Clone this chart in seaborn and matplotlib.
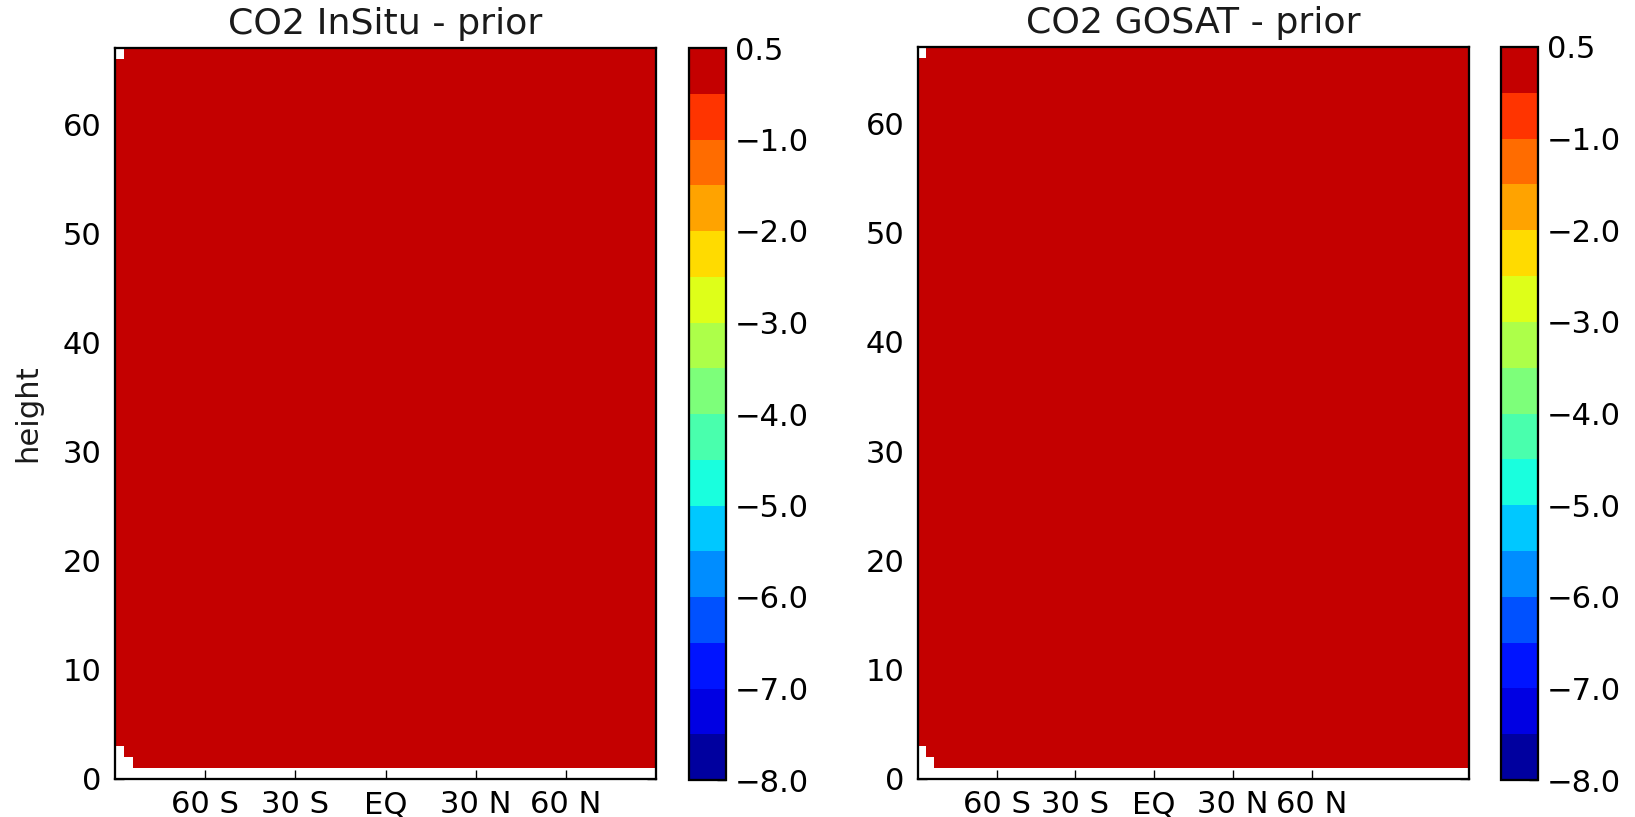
import numpy as np
import matplotlib
matplotlib.use("Agg")
import matplotlib.pyplot as plt
from matplotlib.colors import ListedColormap, BoundaryNorm
import seaborn as sns

# ---------------- data ----------------
titles = ["CO2 InSitu - prior", "CO2 GOSAT - prior"]
n_levels = 67                      # height levels (rows)
n_columns = [60, 70]               # latitude columns per panel
field_value = [0.0, 0.0]           # difference value shown everywhere (top colour band)
# masked (empty) cells: (row, first_col, last_col_exclusive or None for whole row)
masked_cells = [(0, 0, None), (1, 0, 2), (2, 0, 1), (66, 0, 1)]
x_tick_pos = [10, 20, 30, 40, 50]
x_tick_labels = ["60 S", "30 S", "EQ", "30 N", "60 N"]
y_ticks = [0, 10, 20, 30, 40, 50, 60]
boundaries = [-8.0, -7.5, -7.0, -6.5, -6.0, -5.5, -5.0, -4.5, -4.0,
              -3.5, -3.0, -2.5, -2.0, -1.5, -1.0, -0.5, 0.5]
cbar_ticks = [-8.0, -7.0, -6.0, -5.0, -4.0, -3.0, -2.0, -1.0, 0.5]

# ---------------- style ----------------
sns.set_theme(style="white")
FS = 13.5
plt.rcParams.update({
    "font.family": ["DejaVu Sans"],
    "font.size": FS,
    "axes.labelsize": 13.5,
    "xtick.labelsize": FS,
    "ytick.labelsize": FS,
    "axes.edgecolor": "black",
    "axes.linewidth": 1.0,
    "text.color": "#1a1a1a",
    "xtick.color": "black",
    "ytick.color": "black",
    "axes.labelcolor": "#1a1a1a",
})

# contourf-like colours: jet sampled at layer midpoints
mids = [(a + b) / 2 for a, b in zip(boundaries[:-1], boundaries[1:])]
lo, hi = boundaries[0], boundaries[-1]
jet = plt.get_cmap("jet")
cmap = ListedColormap([jet((m - lo) / (hi - lo)) for m in mids])
norm = BoundaryNorm(boundaries, cmap.N)

fig = plt.figure(figsize=(10, 817 / 163.5), dpi=163.5)
W, H = 1635.0, 817.0
ax_boxes = [(115, 48, 656, 779), (918, 47, 1469, 779)]
cb_boxes = [(689, 48, 726, 780), (1501, 47, 1538, 780)]

def frac(box):
    x0, y0, x1, y1 = box
    return [x0 / W, 1 - y1 / H, (x1 - x0) / W, (y1 - y0) / H]

for i in range(2):
    ax = fig.add_axes(frac(ax_boxes[i]))
    cax = fig.add_axes(frac(cb_boxes[i]))
    ncol = n_columns[i]
    data = np.full((n_levels, ncol), field_value[i])
    mask = np.zeros_like(data, dtype=bool)
    for r, c0, c1 in masked_cells:
        mask[r, c0:(ncol if c1 is None else c1)] = True

    sns.heatmap(data, ax=ax, cmap=cmap, norm=norm, mask=mask,
                cbar_ax=cax, cbar_kws=dict(ticks=cbar_ticks, spacing="uniform"),
                xticklabels=False, yticklabels=False)

    ax.invert_yaxis()
    ax.set_ylim(0, n_levels)
    ax.set_xlim(0, ncol)
    ax.set_facecolor("white")
    for s in ax.spines.values():
        s.set_visible(True)
        s.set_color("black")
        s.set_linewidth(1.0)
    ax.set_xticks(x_tick_pos)
    ax.set_xticklabels(x_tick_labels, rotation=0)
    ax.set_yticks(y_ticks)
    ax.set_yticklabels([str(v) for v in y_ticks], rotation=0)
    ax.tick_params(direction="in", length=4, width=0.6,
                   top=True, right=True, bottom=True, left=True,
                   labelbottom=True, labelleft=True, pad=6)
    ax.tick_params(axis="x", pad=5)
    ax.set_xlabel("")
    ax.set_ylabel("height" if i == 0 else "", labelpad=9)
    ax.set_title(titles[i], pad=6, fontsize=16)

    cb = ax.collections[0].colorbar
    cb.outline.set_linewidth(1.0)
    cb.outline.set_edgecolor("black")
    cb.set_ticks(cbar_ticks)
    cb.set_ticklabels([f"{t:.1f}".replace("-", "\u2212") for t in cbar_ticks])
    cax.minorticks_off()
    cax.tick_params(which="both", direction="in", length=4, width=0.6,
                    right=True, left=False, labelsize=FS, pad=4)

fig.savefig("out.png", dpi=163.5)
